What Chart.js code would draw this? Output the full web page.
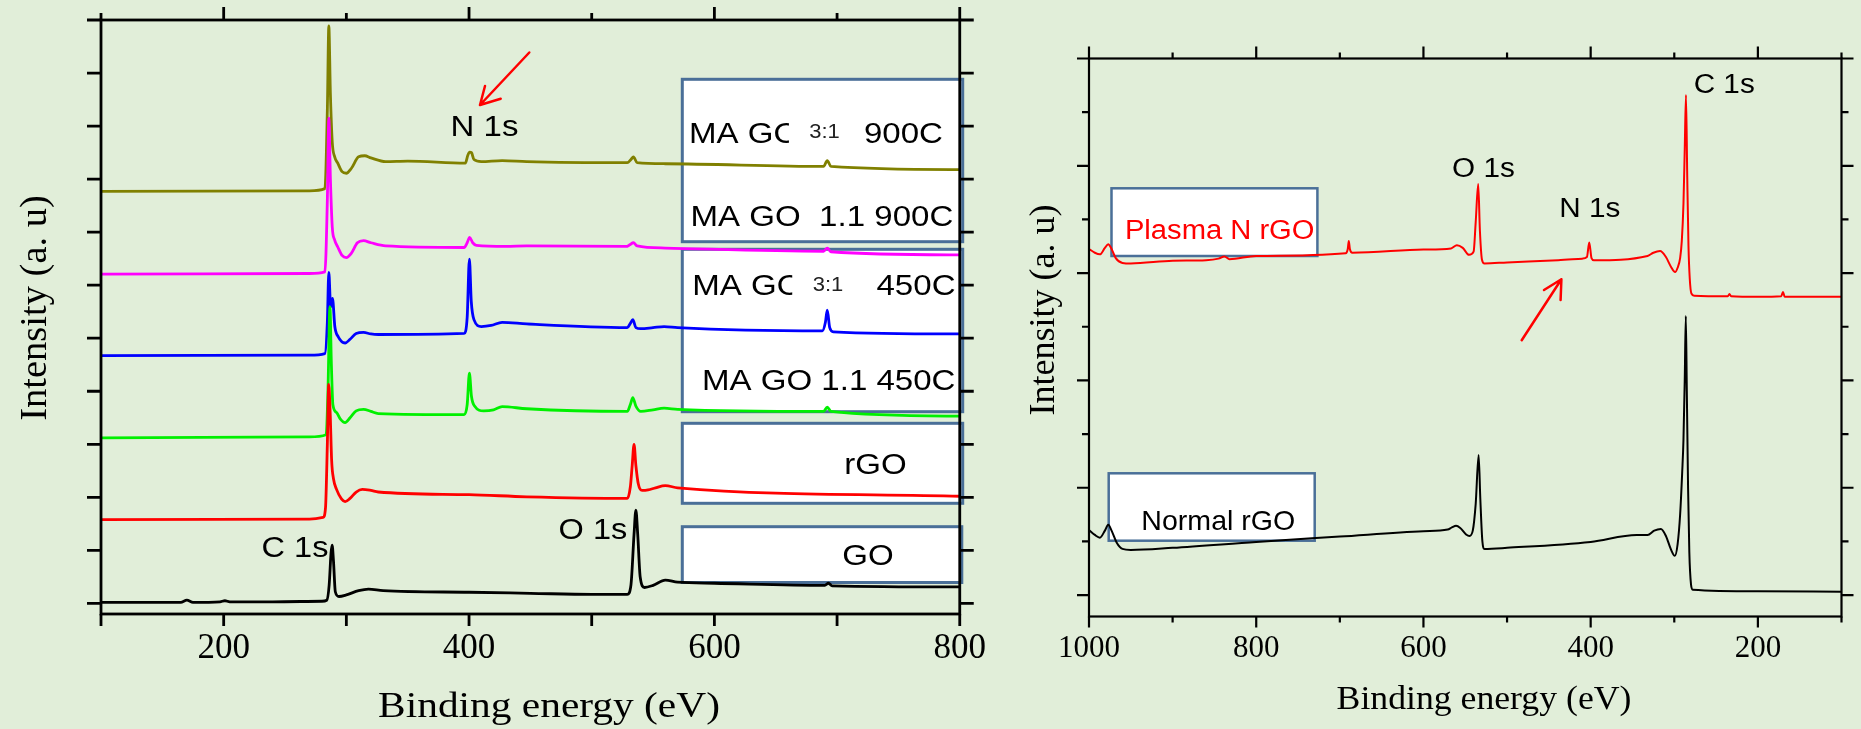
<!DOCTYPE html>
<html>
<head>
<meta charset="utf-8">
<title>XPS survey spectra</title>
<script src="https://cdn.jsdelivr.net/npm/chart.js@4.4.1/dist/chart.umd.min.js"></script>
<style>
  html, body { margin: 0; padding: 0; background: #e1eed9; }
  .panel { position: absolute; top: 0; }
  #survey { left: 0; }
  #plasma { left: 1000px; }
</style>
</head>
<body>
<canvas id="survey" class="panel" width="1000" height="729"></canvas>
<canvas id="plasma" class="panel" width="861" height="729"></canvas>
<script>
// XPS survey scans, traces stacked with offsets (intensity in a.u.)

// --- left panel: GO, rGO and MA-treated GO ---
const goEV = [100, 165, 170, 175, 197, 201, 205, 240, 280, 284, 286, 287.5, 288.4, 289.5, 291, 294, 300, 310, 318, 330, 400, 450, 500, 529, 532, 534.5, 536, 537.5, 539.5, 543, 550, 560, 570, 600, 690, 693, 696, 800];
const goInt = [0.02, 0.02, 0.06, 0.02, 0.03, 0.05, 0.03, 0.03, 0.04, 0.06, 0.35, 0.95, 1.10, 0.8, 0.22, 0.13, 0.16, 0.24, 0.27, 0.24, 0.21, 0.19, 0.17, 0.17, 0.35, 1.3, 1.76, 1.3, 0.5, 0.3, 0.34, 0.44, 0.40, 0.38, 0.34, 0.38, 0.33, 0.31];

const rgoEV = [100, 270, 281, 283, 284.5, 285.6, 286.8, 288, 289.5, 292, 296, 299, 303, 308, 313, 320, 326, 400, 447, 529, 531.5, 533, 534.5, 536, 538, 541, 546, 552, 560, 570, 800];
const rgoInt = [1.58, 1.59, 1.62, 1.8, 3.0, 4.13, 3.6, 2.7, 2.35, 2.15, 1.97, 1.92, 1.98, 2.1, 2.15, 2.13, 2.10, 2.05, 2.01, 1.98, 2.2, 2.6, 3.0, 2.6, 2.25, 2.13, 2.14, 2.18, 2.22, 2.18, 2.02];

const ma11At450EV = [100, 270, 283.5, 285, 286.6, 287.8, 289, 292, 295, 299, 303, 308, 314, 320, 326, 396, 398.5, 400.3, 402, 404.5, 412, 420, 427, 447, 529, 531.5, 533.5, 536, 540, 550, 559, 570, 689, 692, 695, 800];
const ma11At450Int = [3.12, 3.14, 3.18, 4.0, 5.59, 4.5, 3.75, 3.6, 3.48, 3.41, 3.5, 3.63, 3.66, 3.62, 3.58, 3.56, 3.75, 4.34, 3.9, 3.72, 3.63, 3.65, 3.71, 3.67, 3.62, 3.75, 3.88, 3.72, 3.62, 3.65, 3.68, 3.66, 3.62, 3.70, 3.62, 3.53];

const ma31At450EV = [100, 270, 282.5, 284.5, 285.7, 287, 287.8, 288.7, 290.6, 293.3, 299, 303, 308, 314, 320, 326, 396, 398.5, 400.3, 401.8, 404, 410, 418, 427, 447, 529, 531.5, 533.5, 536, 540, 550, 559, 570, 688, 690.5, 692, 694, 697, 800];
const ma31At450Int = [4.67, 4.68, 4.71, 5.3, 6.24, 5.65, 5.6, 5.75, 5.22, 5.03, 4.91, 4.98, 5.09, 5.11, 5.08, 5.07, 5.09, 5.4, 6.49, 5.7, 5.35, 5.22, 5.24, 5.30, 5.27, 5.2, 5.28, 5.35, 5.2, 5.18, 5.2, 5.22, 5.2, 5.14, 5.3, 5.53, 5.2, 5.12, 5.08];

const ma11At900EV = [100, 270, 282.5, 284.5, 285.7, 287, 288.5, 290.5, 293, 296.5, 300, 304, 309, 314, 320, 332, 396, 398.5, 400.5, 403, 406, 430, 447, 528, 531, 534, 537, 560, 689, 692, 695, 800];
const ma11At900Int = [6.21, 6.22, 6.25, 7.6, 9.15, 8.0, 7.1, 6.85, 6.72, 6.56, 6.52, 6.6, 6.8, 6.84, 6.8, 6.74, 6.71, 6.8, 6.90, 6.8, 6.75, 6.73, 6.74, 6.73, 6.76, 6.80, 6.74, 6.7, 6.64, 6.70, 6.63, 6.57];

const ma31At900EV = [100, 270, 282.5, 284.5, 285.7, 287, 288.5, 290.5, 293, 296.5, 300, 304, 310, 315, 320, 332, 350, 397, 399, 400.5, 402, 404, 410, 427, 447, 529, 532, 534, 537, 560, 689, 692, 695, 800];
const ma31At900Int = [7.77, 7.78, 7.82, 9.3, 10.89, 9.6, 8.7, 8.42, 8.3, 8.14, 8.11, 8.2, 8.42, 8.44, 8.40, 8.33, 8.34, 8.30, 8.45, 8.51, 8.5, 8.37, 8.33, 8.35, 8.33, 8.31, 8.37, 8.42, 8.31, 8.29, 8.24, 8.35, 8.24, 8.18];

// --- right panel: plasma N-doped rGO vs normal rGO (energy axis runs 1000 -> 100) ---
const plasmaEV = [1000, 993, 987, 981, 977, 973, 968, 960, 950, 900, 860, 845, 838, 832, 800, 693, 690.5, 689.3, 688, 685, 600, 567, 560, 553, 545.5, 540, 537.5, 534.5, 532.5, 530, 527, 500, 439, 410, 404.5, 401.7, 399, 396, 332, 325, 317, 310, 304, 299, 296, 293, 291, 289, 287.5, 286, 284.5, 283, 281.5, 279.5, 276, 236, 234, 232, 200, 172, 170, 168, 100];
const plasmaInt = [6.45, 6.38, 6.35, 6.47, 6.54, 6.45, 6.28, 6.19, 6.18, 6.23, 6.24, 6.27, 6.31, 6.26, 6.32, 6.37, 6.45, 6.60, 6.45, 6.38, 6.44, 6.46, 6.52, 6.47, 6.34, 6.4, 6.95, 7.66, 6.8, 6.25, 6.18, 6.2, 6.24, 6.27, 6.3, 6.57, 6.28, 6.24, 6.32, 6.38, 6.41, 6.3, 6.12, 6.02, 6.1, 6.28, 6.6, 7.3, 8.3, 9.32, 7.8, 6.5, 5.9, 5.62, 5.58, 5.57, 5.61, 5.57, 5.56, 5.57, 5.65, 5.56, 5.56];

const normalEV = [1000, 993, 987, 981, 977, 973, 967, 960, 950, 900, 800, 700, 600, 571, 566, 561, 556, 549, 545, 541, 537.5, 534, 532, 529.5, 527, 500, 400, 345, 332, 324, 316, 310, 304, 299.4, 296, 293, 290.5, 289, 287.5, 286.2, 285, 283.5, 282, 280, 278, 200, 100];
const normalInt = [1.21, 1.12, 1.07, 1.2, 1.31, 1.2, 0.98, 0.86, 0.84, 0.88, 0.99, 1.09, 1.19, 1.22, 1.26, 1.29, 1.25, 1.13, 1.10, 1.2, 1.7, 2.61, 1.8, 1.0, 0.86, 0.88, 0.99, 1.12, 1.12, 1.2, 1.23, 1.1, 0.85, 0.73, 0.95, 1.5, 2.3, 2.9, 4.0, 5.2, 3.8, 2.0, 0.8, 0.2, 0.1, 0.07, 0.06];

// --- tick values ---
const surveyLabelTicks = [200, 400, 600, 800];
const surveyMinorTicks = [100, 300, 500, 700];
const surveyIntTicks = [0, 1, 2, 3, 4, 5, 6, 7, 8, 9, 10, 11];
const plasmaLabelTicks = [1000, 800, 600, 400, 200];
const plasmaMinorTicks = [900, 700, 500, 300, 100];
const plasmaIntMajor = [0, 2, 4, 6, 8, 10];
const plasmaIntMinor = [1, 3, 5, 7, 9];

const SERIF = '"Liberation Serif", "Times New Roman", serif';
const SANS = '"Liberation Sans", Arial, sans-serif';
const BOX_EDGE = '#4a6f98';

function trace(label, ev, counts, color, width) {
    return {
        label,
        data: ev.map((x, i) => ({ x, y: counts[i] })),
        borderColor: color,
        backgroundColor: color,
        borderWidth: width,
        pointRadius: 0,
        cubicInterpolationMode: 'monotone',
        borderJoinStyle: 'round',
        fill: false
    };
}

function drawText(ctx, t) {
    ctx.save();
    ctx.font = `${t.size}px ${t.family || SANS}`;
    ctx.fillStyle = t.color || '#000';
    ctx.textAlign = t.align || 'center';
    ctx.textBaseline = t.baseline || 'alphabetic';
    ctx.translate(t.x, t.y);
    if (t.rotate) ctx.rotate(t.rotate);
    ctx.scale(t.sx || 1, 1);
    if (t.cut != null) {
        // last glyph is only partly visible
        const head = ctx.measureText(t.text.slice(0, -1)).width;
        const tail = ctx.measureText(t.text.slice(-1)).width;
        ctx.beginPath();
        ctx.rect(-2, -t.size, head + tail * t.cut + 2, t.size * 1.5);
        ctx.clip();
    }
    ctx.fillText(t.text, 0, 0);
    ctx.restore();
}

function drawArrow(ctx, a) {
    ctx.save();
    ctx.strokeStyle = '#ff0000';
    ctx.lineWidth = a.width;
    ctx.lineCap = 'round';
    ctx.beginPath();
    ctx.moveTo(a.from[0], a.from[1]);
    ctx.lineTo(a.to[0], a.to[1]);
    a.wings.forEach(w => {
        ctx.moveTo(a.to[0], a.to[1]);
        ctx.lineTo(w[0], w[1]);
    });
    ctx.stroke();
    ctx.restore();
}

function drawFrame(chart, cfg) {
    const ctx = chart.ctx;
    const { left, right, top, bottom } = chart.chartArea;
    const xs = chart.scales.x;
    const ys = chart.scales.y;
    const len = cfg.tickLen;
    ctx.save();
    ctx.strokeStyle = '#000';
    ctx.lineWidth = cfg.axisWidth;
    ctx.beginPath();
    const xTick = (v, up, down) => {
        const px = xs.getPixelForValue(v);
        ctx.moveTo(px, top); ctx.lineTo(px, top - up);
        ctx.moveTo(px, bottom); ctx.lineTo(px, bottom + down);
    };
    const yTick = (v, l) => {
        const py = ys.getPixelForValue(v);
        ctx.moveTo(left, py); ctx.lineTo(left - l, py);
        ctx.moveTo(right, py); ctx.lineTo(right + l, py);
    };
    cfg.xMajor.forEach(v => xTick(v, len.topMajor, len.bottomMajor));
    cfg.xMinor.forEach(v => xTick(v, len.topMinor, len.bottomMinor));
    cfg.yMajor.forEach(v => yTick(v, len.sideMajor));
    cfg.yMinor.forEach(v => yTick(v, len.sideMinor));
    ctx.stroke();
    ctx.strokeRect(left, top, right - left, bottom - top);
    ctx.restore();
}

// legend boxes go under the traces; frame, notes and titles go on top
function decor(cfg) {
    return {
        id: 'decor',
        beforeDatasetsDraw(chart) {
            const ctx = chart.ctx;
            ctx.save();
            cfg.boxes.forEach(b => {
                ctx.fillStyle = '#fff';
                ctx.fillRect(b.x, b.y, b.w, b.h);
                ctx.strokeStyle = BOX_EDGE;
                ctx.lineWidth = cfg.boxLine;
                ctx.strokeRect(b.x, b.y, b.w, b.h);
            });
            ctx.restore();
            cfg.boxText.forEach(t => drawText(ctx, t));
        },
        afterDatasetsDraw(chart) {
            const ctx = chart.ctx;
            drawFrame(chart, cfg);
            cfg.notes.forEach(t => drawText(ctx, t));
            cfg.arrows.forEach(a => drawArrow(ctx, a));
            cfg.titles.forEach(t => drawText(ctx, t));
        }
    };
}

function energyAxis(min, max, labels, font, pad, height, reverse) {
    return {
        type: 'linear',
        min, max, reverse,
        afterBuildTicks: s => { s.ticks = labels.map(v => ({ value: v })); },
        afterFit: s => { s.height = height; },
        grid: { display: false, drawTicks: false },
        border: { display: false },
        ticks: {
            autoSkip: false, maxRotation: 0, minRotation: 0,
            align: 'center',
            padding: pad,
            color: '#000',
            font: { family: SERIF, size: font },
            callback: v => String(v)
        }
    };
}

const baseOptions = {
    responsive: false,
    animation: false,
    devicePixelRatio: 1,
    events: [],
    plugins: { legend: { display: false }, tooltip: { enabled: false } }
};

// left panel
new Chart(document.getElementById('survey'), {
    type: 'line',
    data: {
        datasets: [
            trace('GO', goEV, goInt, '#000000', 2.8),
            trace('rGO', rgoEV, rgoInt, '#ff0000', 2.8),
            trace('MA GO 1.1 450C', ma11At450EV, ma11At450Int, '#00f000', 2.8),
            trace('MA GO 3:1 450C', ma31At450EV, ma31At450Int, '#0000ff', 2.8),
            trace('MA GO 1.1 900C', ma11At900EV, ma11At900Int, '#ff00ff', 2.8),
            trace('MA GO 3:1 900C', ma31At900EV, ma31At900Int, '#808000', 2.8)
        ]
    },
    options: {
        ...baseOptions,
        layout: { padding: { left: 101, top: 20, right: 31, bottom: 0 } },
        scales: {
            x: energyAxis(100, 800, surveyLabelTicks, 35, 14, 115, false),
            y: { type: 'linear', display: false, min: -0.2, max: 11 }
        }
    },
    plugins: [decor({
        axisWidth: 2.8,
        tickLen: { topMajor: 13, topMinor: 7, bottomMajor: 12, bottomMinor: 12, sideMajor: 14, sideMinor: 14 },
        xMajor: surveyLabelTicks, xMinor: surveyMinorTicks,
        yMajor: surveyIntTicks, yMinor: [],
        boxLine: 3,
        boxes: [
            { x: 682.3, y: 79.3, w: 280.4, h: 162.4 },
            { x: 682.3, y: 249.3, w: 280.4, h: 162.4 },
            { x: 682.3, y: 423.3, w: 280.4, h: 80 },
            { x: 682.3, y: 526.7, w: 279.5, h: 55.8 }
        ],
        boxText: [
            { text: 'MA GO', x: 689, y: 143.3, size: 29, sx: 1.14, align: 'left', cut: 0.6 },
            { text: '3:1', x: 824.5, y: 138.3, size: 20, sx: 1.1, color: '#222' },
            { text: '900C', x: 903.4, y: 143.3, size: 29, sx: 1.14 },
            { text: 'MA GO  1.1 900C', x: 821.9, y: 225.7, size: 29, sx: 1.14 },
            { text: 'MA GO', x: 692.3, y: 295, size: 29, sx: 1.14, align: 'left', cut: 0.6 },
            { text: '3:1', x: 828, y: 290.7, size: 20, sx: 1.1, color: '#222' },
            { text: '450C', x: 916, y: 295, size: 29, sx: 1.14 },
            { text: 'MA GO 1.1 450C', x: 828.7, y: 390, size: 29, sx: 1.14 },
            { text: 'rGO', x: 875.4, y: 474.3, size: 29, sx: 1.14 },
            { text: 'GO', x: 868, y: 565, size: 29, sx: 1.14 }
        ],
        notes: [
            { text: 'N 1s', x: 484.5, y: 136, size: 30, sx: 1.1 },
            { text: 'C 1s', x: 295, y: 557.3, size: 29, sx: 1.12 },
            { text: 'O 1s', x: 592.9, y: 539.3, size: 29, sx: 1.12 }
        ],
        arrows: [
            { from: [529.3, 52.5], to: [480, 105], wings: [[485, 86], [500.7, 98.7]], width: 2.5 }
        ],
        titles: [
            { text: 'Binding energy (eV)', x: 549, y: 717, size: 36, sx: 1.15, family: SERIF },
            { text: 'Intensity (a. u)', x: 36, y: 308, size: 38.5, family: SERIF, rotate: -Math.PI / 2, baseline: 'middle' }
        ]
    })]
});

// right panel
new Chart(document.getElementById('plasma'), {
    type: 'line',
    data: {
        datasets: [
            trace('Plasma N rGO', plasmaEV, plasmaInt, '#ff0000', 2),
            trace('Normal rGO', normalEV, normalInt, '#000000', 2)
        ]
    },
    options: {
        ...baseOptions,
        layout: { padding: { left: 89, top: 58.5, right: 19.5, bottom: 0 } },
        scales: {
            x: energyAxis(100, 1000, plasmaLabelTicks, 31, 13.5, 112.5, true),
            y: { type: 'linear', display: false, min: -0.4, max: 10 }
        }
    },
    plugins: [decor({
        axisWidth: 2.2,
        tickLen: { topMajor: 12, topMinor: 6, bottomMajor: 11, bottomMinor: 6, sideMajor: 12, sideMinor: 7 },
        xMajor: plasmaLabelTicks, xMinor: plasmaMinorTicks,
        yMajor: plasmaIntMajor, yMinor: plasmaIntMinor,
        boxLine: 2.5,
        boxes: [
            { x: 111.5, y: 188.3, w: 205.9, h: 67.7 },
            { x: 108.7, y: 473.3, w: 206, h: 67.4 }
        ],
        boxText: [
            { text: 'Plasma N rGO', x: 219.7, y: 239.3, size: 27, sx: 1.08, color: '#ff0000' },
            { text: 'Normal rGO', x: 218.3, y: 530, size: 28, sx: 1.02 }
        ],
        notes: [
            { text: 'C 1s', x: 724.2, y: 92.7, size: 27, sx: 1.1 },
            { text: 'O 1s', x: 483.4, y: 176.7, size: 27, sx: 1.1 },
            { text: 'N 1s', x: 589.8, y: 217.3, size: 27, sx: 1.1 }
        ],
        arrows: [
            { from: [521.7, 340.3], to: [561.4, 279.2], wings: [[544, 290], [560.6, 300]], width: 2.5 }
        ],
        titles: [
            { text: 'Binding energy (eV)', x: 484, y: 709, size: 34, sx: 1.05, family: SERIF },
            { text: 'Intensity (a. u)', x: 45, y: 310, size: 36, family: SERIF, rotate: -Math.PI / 2, baseline: 'middle' }
        ]
    })]
});
</script>
</body>
</html>
